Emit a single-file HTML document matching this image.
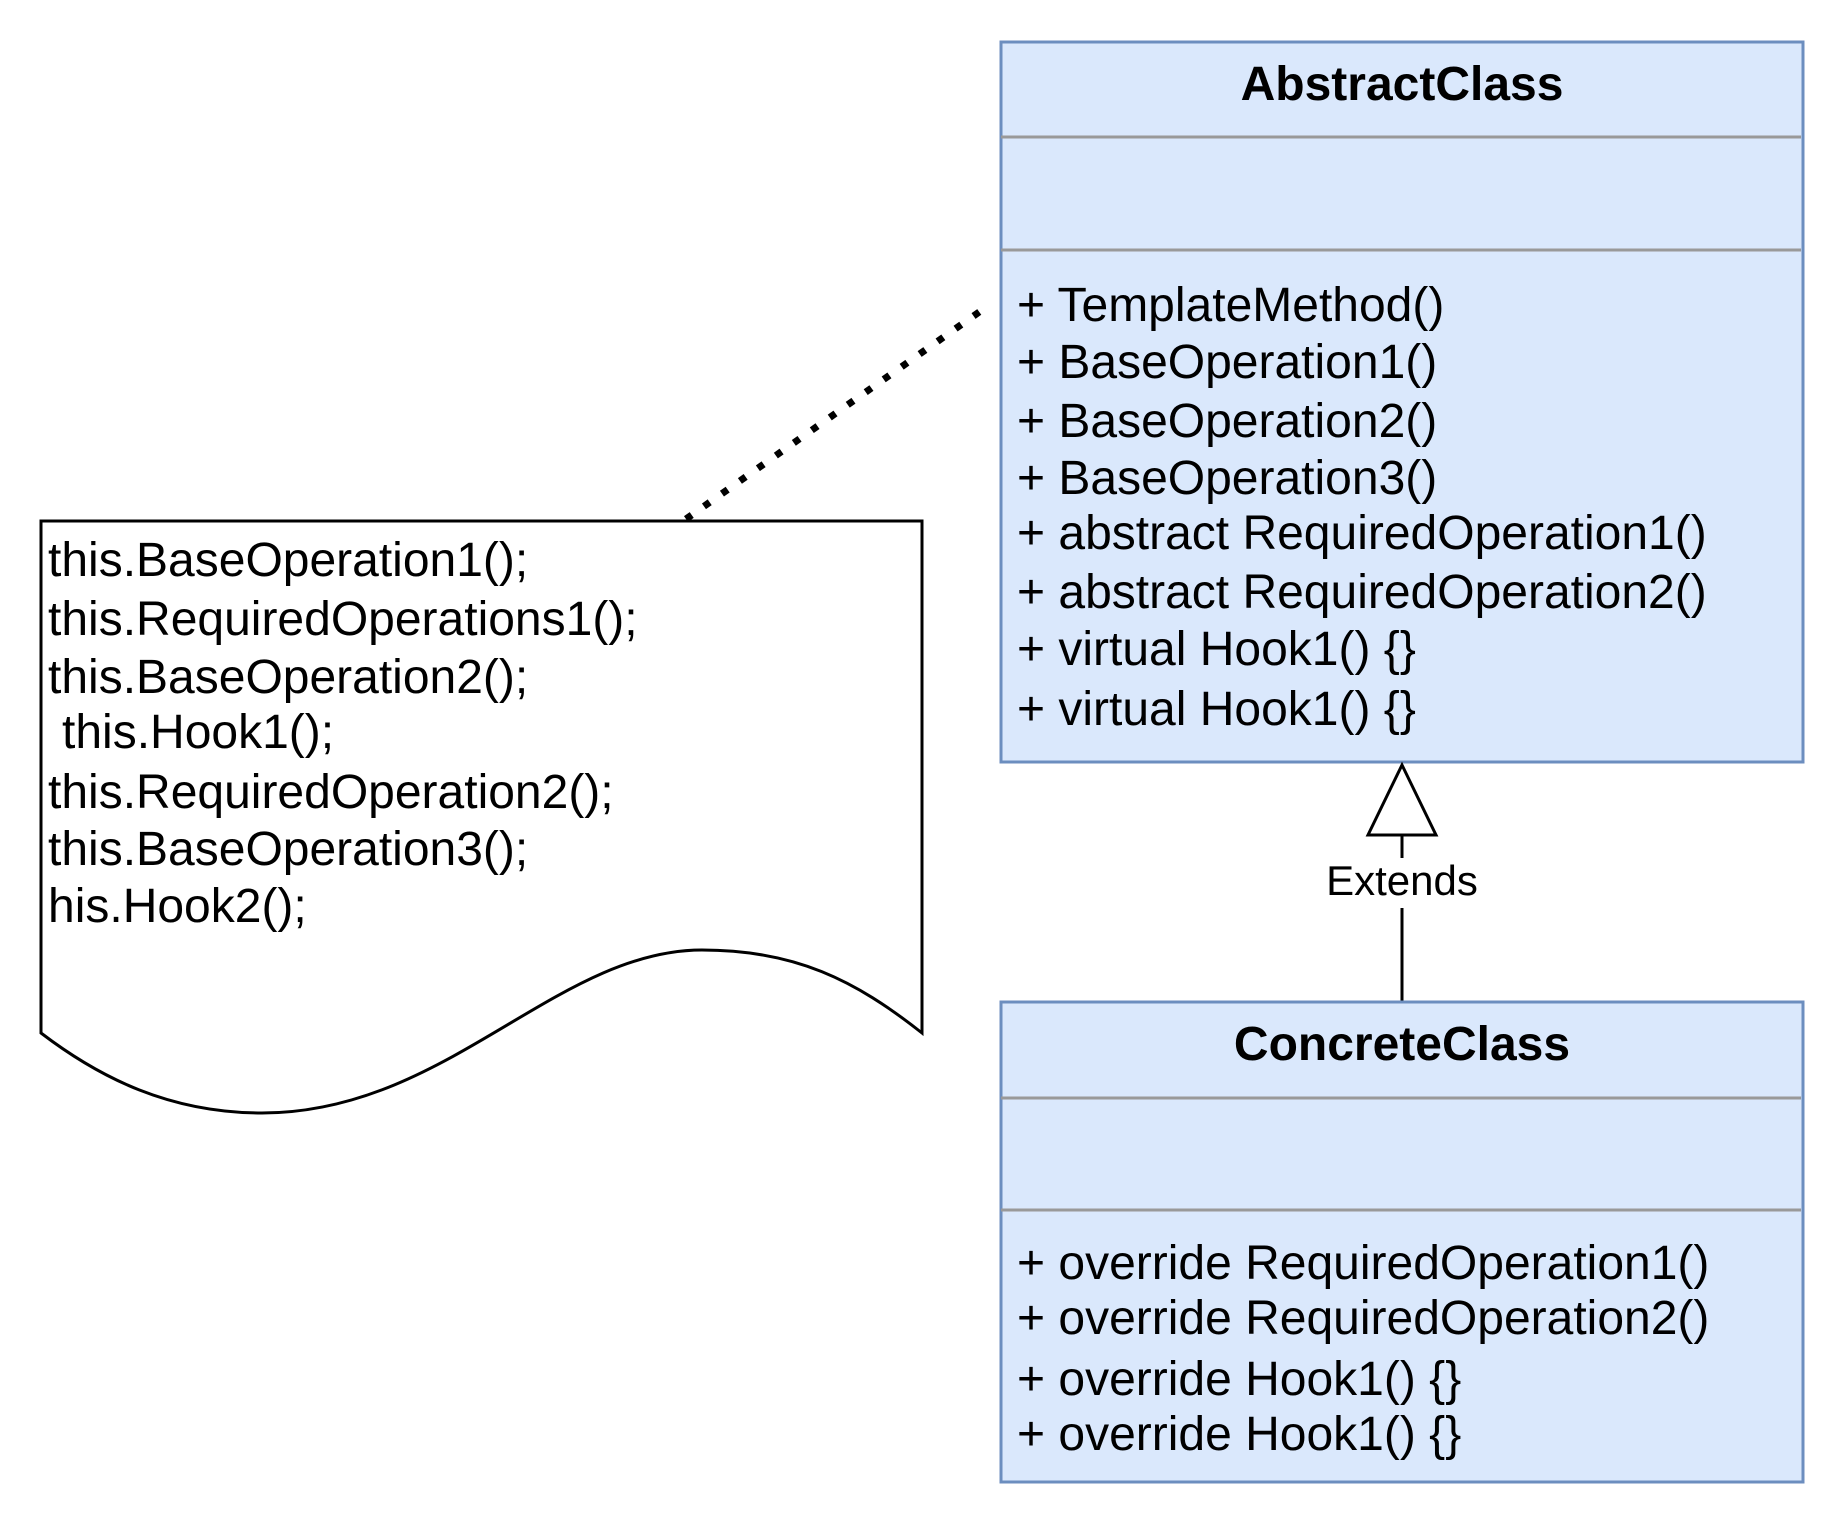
<!DOCTYPE html>
<html><head><meta charset="utf-8"><style>
html,body{margin:0;padding:0;background:#fff;}
svg{display:block;}
text{font-family:"Liberation Sans",Arial,sans-serif;fill:#000;}
</style></head><body>
<svg width="1844" height="1524" viewBox="0 0 1844 1524" xmlns="http://www.w3.org/2000/svg">
<line x1="686" y1="519" x2="982" y2="310" stroke="#000" stroke-width="7" stroke-dasharray="7 15"/>
<path d="M41,521 L922,521 L922,1033 C855,980 795,950 702,950 C556,950 446,1113 262,1113 C170,1113 100,1078 41,1033 Z" fill="#fff" stroke="#000" stroke-width="3"/>
<g font-size="48">
<text x="48" y="576">this.BaseOperation1();</text>
<text x="48" y="635">this.RequiredOperations1();</text>
<text x="48" y="693">this.BaseOperation2();</text>
<text x="62" y="748">this.Hook1();</text>
<text x="48" y="808">this.RequiredOperation2();</text>
<text x="48" y="865">this.BaseOperation3();</text>
<text x="48" y="922">his.Hook2();</text>
</g>
<rect x="1001" y="42" width="802" height="720" fill="#dae8fc" stroke="#6c8ebf" stroke-width="3"/>
<line x1="1001" y1="137" x2="1801" y2="137" stroke="#999" stroke-width="3"/>
<line x1="1001" y1="250" x2="1801" y2="250" stroke="#999" stroke-width="3"/>
<text x="1402" y="100" font-size="48" font-weight="bold" text-anchor="middle">AbstractClass</text>
<g font-size="48">
<text x="1017" y="321">+ TemplateMethod()</text>
<text x="1017" y="378">+ BaseOperation1()</text>
<text x="1017" y="437">+ BaseOperation2()</text>
<text x="1017" y="494">+ BaseOperation3()</text>
<text x="1017" y="549">+ abstract RequiredOperation1()</text>
<text x="1017" y="608">+ abstract RequiredOperation2()</text>
<text x="1017" y="665">+ virtual Hook1() {}</text>
<text x="1017" y="725">+ virtual Hook1() {}</text>
</g>
<line x1="1402" y1="835" x2="1402" y2="1002" stroke="#000" stroke-width="3"/>
<polygon points="1402,765 1436,835 1368,835" fill="#fff" stroke="#000" stroke-width="3"/>
<rect x="1318" y="858" width="168" height="50" fill="#fff"/>
<text x="1402" y="895" font-size="42" text-anchor="middle">Extends</text>
<rect x="1001" y="1002" width="802" height="480" fill="#dae8fc" stroke="#6c8ebf" stroke-width="3"/>
<line x1="1001" y1="1098" x2="1801" y2="1098" stroke="#999" stroke-width="3"/>
<line x1="1001" y1="1210" x2="1801" y2="1210" stroke="#999" stroke-width="3"/>
<text x="1402" y="1060" font-size="48" font-weight="bold" text-anchor="middle">ConcreteClass</text>
<g font-size="48">
<text x="1017" y="1279">+ override RequiredOperation1()</text>
<text x="1017" y="1334">+ override RequiredOperation2()</text>
<text x="1017" y="1395">+ override Hook1() {}</text>
<text x="1017" y="1450">+ override Hook1() {}</text>
</g>
</svg>
</body></html>
